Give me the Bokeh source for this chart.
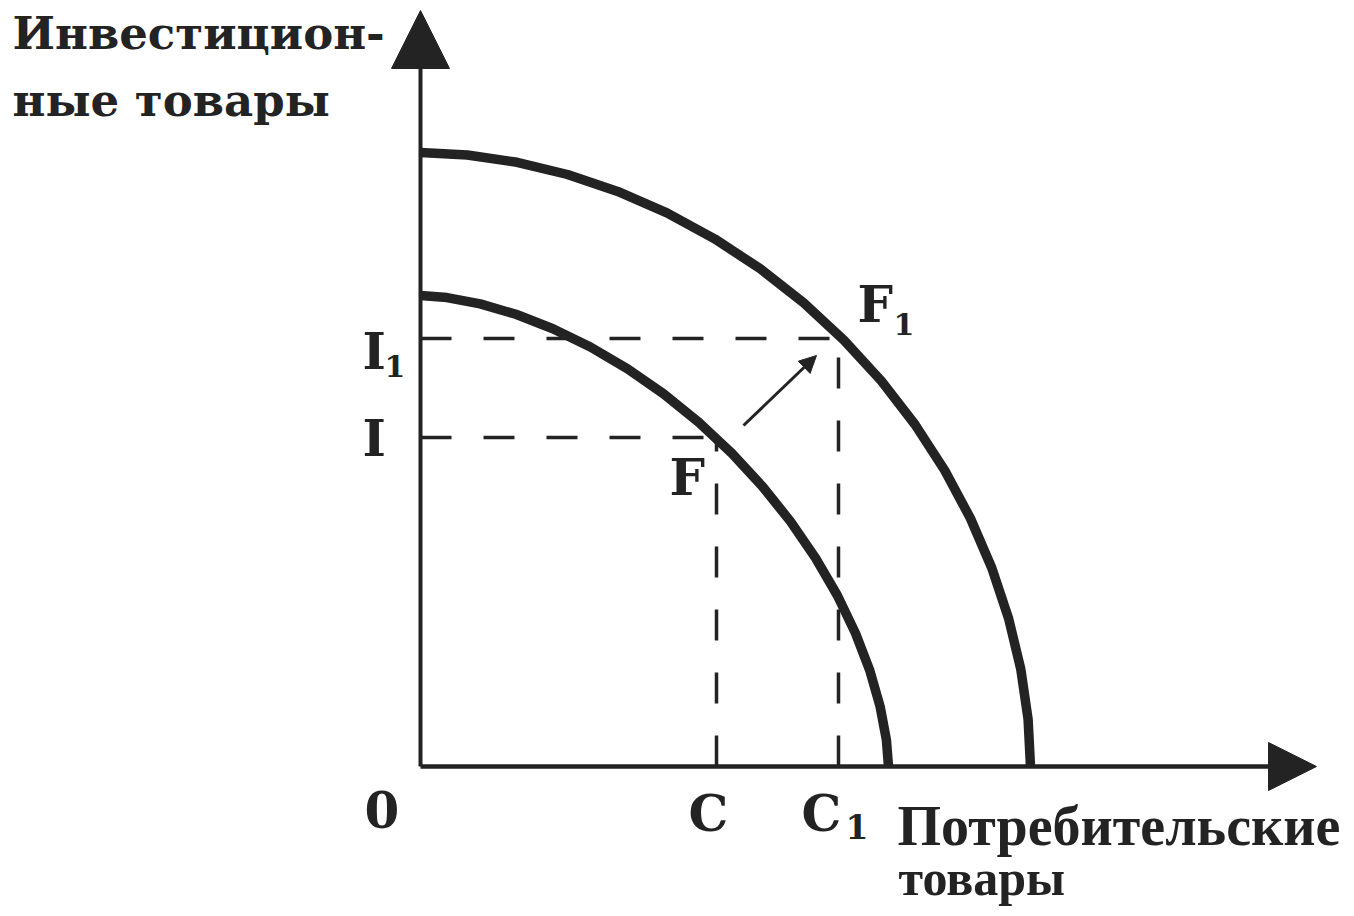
from bokeh.plotting import figure
from bokeh.models import Range1d, Arrow, NormalHead
from bokeh.core.properties import value
from bokeh.embed import file_html
from bokeh.resources import INLINE

# --- data (origin at the axes corner) ---
inner_x = [468, 465.9, 459.6, 449.3, 435.0, 416.9, 395.1, 370.1, 342.0, 311.3,
           278.2, 243.3, 207.1, 169.9, 132.4, 95.4, 59.7, 26.5, 0]
inner_y = [0, 26.7, 60.0, 96.0, 133.3, 171.0, 208.4, 244.9, 280.0, 313.3,
           344.2, 372.5, 397.7, 419.5, 437.8, 452.2, 462.6, 468.9, 471]
outer_x = [610, 607.6, 600.3, 588.1, 571.3, 550.0, 524.3, 494.5, 460.8, 423.5,
           383.1, 339.8, 294.1, 246.4, 197.2, 147.0, 96.6, 46.8, 0]
outer_y = [0, 47.1, 97.3, 148.0, 198.5, 248.0, 296.0, 342.0, 385.6, 426.3,
           463.8, 497.7, 527.7, 553.6, 575.1, 592.0, 604.2, 611.5, 614]
C, C1 = 296, 418          # consumer goods levels
I, I1 = 329, 428          # investment goods levels

y_title = ["Инвестицион-", "ные товары"]
x_title = ["Потребительские", "товары"]

INK = "#232323"

p = figure(width=1350, height=912, output_backend="svg", toolbar_location=None,
           x_range=Range1d(-420, 930), y_range=Range1d(-146, 766),
           x_axis_type=None, y_axis_type=None, min_border=0)
p.outline_line_color = None
p.grid.visible = False
p.background_fill_color = "white"

# axes with arrows
p.add_layout(Arrow(end=NormalHead(size=58, fill_color=INK, line_color=INK, line_width=1),
                   x_start=0, y_start=0, x_end=0, y_end=756,
                   line_color=INK, line_width=4))
p.add_layout(Arrow(end=NormalHead(size=48, fill_color=INK, line_color=INK, line_width=1),
                   x_start=0, y_start=0, x_end=896, y_end=0,
                   line_color=INK, line_width=4.5))

# dashed guides
dash = "31 32"
p.line([0, C], [I, I], line_color=INK, line_width=3.5, line_dash=dash)
p.line([0, C1], [I1, I1], line_color=INK, line_width=3.5, line_dash=dash)
p.line([C, C], [0, I], line_color=INK, line_width=3.5, line_dash=dash)
p.line([C1, C1], [0, I1], line_color=INK, line_width=3.5, line_dash=dash)

# production possibility frontiers
p.line(inner_x, inner_y, line_color=INK, line_width=9.5, line_join="round")
p.line(outer_x, outer_y, line_color=INK, line_width=9.5, line_join="round")

# shift arrow F -> F1
p.add_layout(Arrow(end=NormalHead(size=17, fill_color=INK, line_color=INK, line_width=1),
                   x_start=C + 27, y_start=I + 12, x_end=C1 - 22, y_end=I1 - 17,
                   line_color=INK, line_width=3))

def label(x, y, t, size, font="DejaVu Serif"):
    # y is the wanted baseline; shift to compensate the renderer's baseline
    p.text(x=[x], y=[y + 0.38 * size], text=[t], text_font=value(font),
           text_font_style="bold", text_font_size=f"{size}px", text_color=INK,
           text_align="left", text_baseline="alphabetic")

big, sub = 50, 30
label(-58, I1 - 32, "I", big); label(-36, I1 - 39, "1", sub)
label(-58, I - 20, "I", big)
label(C - 47, I - 59, "F", big)
label(C1 + 19, I1 + 15, "F", big); label(C1 + 55, I1 + 3, "1", sub)
label(-56, -62, "0", big)
label(C - 28, -66, "C", big)
label(C1 - 37, -66, "C", big); label(C1 + 7, -73, "1", 33)

label(-408, 716, y_title[0], 45)
label(-408, 649, y_title[1], 45)
label(477, -81, x_title[0], 56, "Liberation Serif")
label(478, -130, x_title[1], 50, "Liberation Serif")

open("out.html", "w").write(file_html(p, INLINE))
